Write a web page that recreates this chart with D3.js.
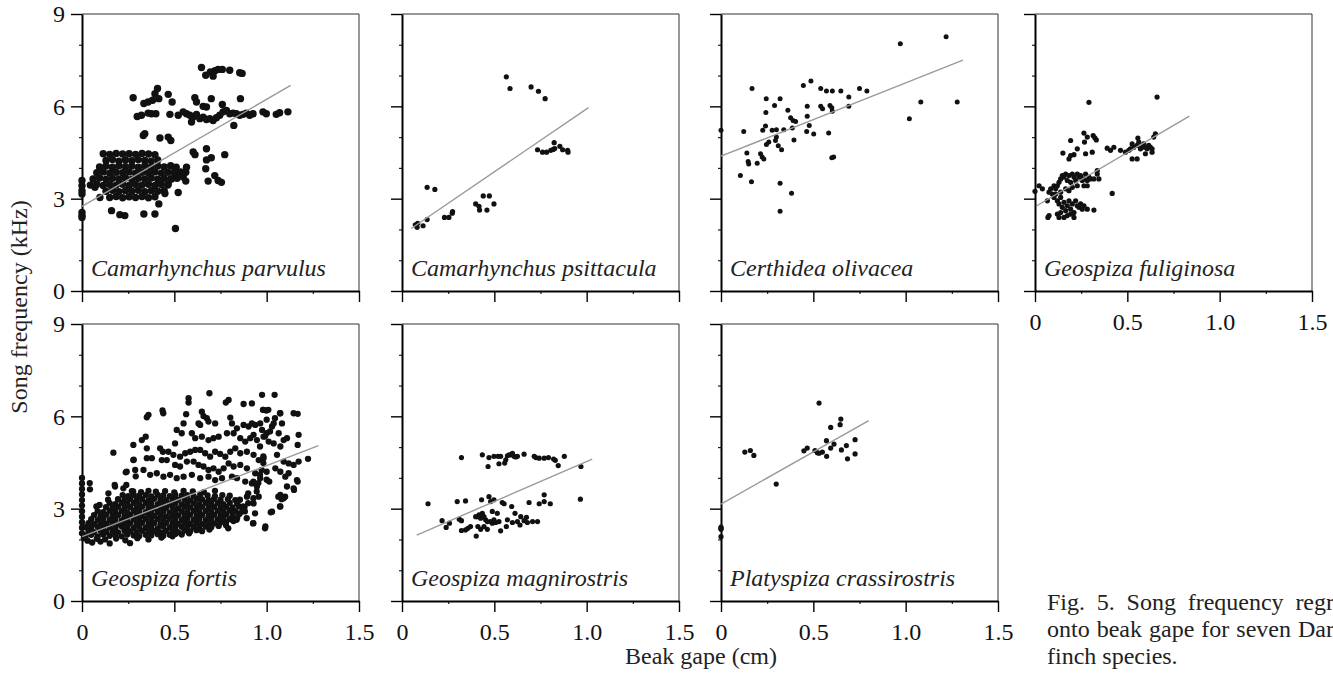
<!DOCTYPE html>
<html>
<head>
<meta charset="utf-8">
<script src="https://cdn.jsdelivr.net/npm/d3@7"></script>
<style>
  body { margin: 0; background: #fff; }
  svg { display: block; font-family: "Liberation Serif", "Times New Roman", Times, serif; }
</style>
</head>
<body>
<div id="chart"></div>
<script>
// Song frequency (kHz) vs beak gape (cm) for seven Darwin's finch species.
// Points were read off the printed figure, so they are estimates.

const xTicksMajor = [0, 0.5, 1.0, 1.5];
const xTicksMinor = [0.25, 0.75, 1.25];
const yTicksMajor = [0, 3, 6, 9];
const yTicksMinor = [1, 2, 4, 5, 7, 8];

const speciesNames = [
  "Camarhynchus parvulus", "Camarhynchus psittacula", "Certhidea olivacea", "Geospiza fuliginosa",
  "Geospiza fortis", "Geospiza magnirostris", "Platyspiza crassirostris"
];

// regression lines: [x0, y0, x1, y1]
const fitLines = [
  [0, 2.75, 1.13, 6.68],
  [0.05, 2.03, 1.01, 5.96],
  [0, 4.38, 1.31, 7.5],
  [0.01, 2.77, 0.836, 5.68],
  [0, 2.09, 1.28, 5.05],
  [0.08, 2.14, 1.03, 4.61],
  [0, 3.15, 0.8, 5.86]
];

const parvulus = [
  [0.647,7.26],[0.67,7.01],[0.695,7.12],[0.71,6.98],[0.72,7.16],[0.737,7.2],[0.76,7.2],[0.8,7.17],[0.854,7.09],[0.867,7.07],
  [0.277,6.28],[0.335,6.09],[0.358,6.14],[0.382,6.2],[0.395,6.41],[0.409,6.58],[0.416,6.25],[0.467,6.39],[0.488,6.14],
  [0.299,5.67],[0.322,5.71],[0.358,5.78],[0.376,5.76],[0.4,5.76],[0.476,5.74],[0.521,5.71],
  [0.611,6.28],[0.62,6.14],[0.656,6.0],[0.674,5.98],[0.7,6.25],[0.76,6.06],[0.858,6.25],
  [0.548,5.82],[0.566,5.76],[0.584,5.71],[0.602,5.65],[0.62,5.74],[0.638,5.6],[0.656,5.65],[0.674,5.57],[0.692,5.6],
  [0.71,5.54],[0.728,5.63],[0.746,5.71],[0.764,5.82],[0.782,5.87],[0.8,5.76],[0.818,5.78],[0.836,5.76],[0.854,5.71],
  [0.872,5.74],[0.89,5.78],[0.908,5.71],[0.926,5.76],[0.98,5.82],[0.998,5.76],[1.052,5.74],[1.07,5.79],[1.115,5.82],
  [0.593,5.49],[0.822,5.38],
  [0.332,5.05],[0.34,5.11],[0.422,4.97],[0.467,5.0],[0.481,4.89],
  [0.674,4.62],[0.773,4.43],[0.602,4.52],[0.612,4.43],[0.674,4.26],[0.7,4.33],[0.67,3.97],
  [0.719,3.75],[0.683,3.57],[0.737,3.59],[0.755,3.53],
  [0.566,4.02],[0.562,3.86],[0.548,3.7],[0.562,3.57],
  [0.503,3.91],[0.512,3.75],[0.521,3.2],[0.485,3.64],[0.467,3.48],[0.449,3.17],
  [0.416,2.83],[0.395,2.5],[0.335,2.5],[0.16,2.61],[0.205,2.48],[0.232,2.45],[0.506,2.03],[0.07,3.37],[0.097,3.04],
  [0,3.59],[0,3.42],[0,3.26],[0,3.15],[0,2.55],[0,2.45],[0,2.39],
  [0.115,4.46],[0.15,4.44],[0.185,4.47],[0.22,4.45],[0.255,4.46],[0.29,4.44],[0.325,4.47],[0.36,4.45],[0.395,4.43],
  [0.13,4.24],[0.165,4.27],[0.2,4.22],[0.235,4.26],[0.27,4.23],[0.305,4.27],[0.34,4.24],[0.375,4.22],[0.41,4.26],
  [0.095,4.03],[0.13,4.06],[0.165,4.02],[0.2,4.07],[0.235,4.04],[0.27,4.06],[0.305,4.02],[0.34,4.07],[0.375,4.03],
  [0.41,4.06],[0.445,4.03],[0.48,4.07],[0.51,4.02],
  [0.08,3.84],[0.115,3.87],[0.15,3.83],[0.185,3.86],[0.22,3.84],[0.255,3.87],[0.29,3.83],[0.325,3.86],[0.36,3.84],
  [0.395,3.87],[0.43,3.83],[0.465,3.86],[0.5,3.84],[0.535,3.87],
  [0.06,3.64],[0.095,3.67],[0.13,3.63],[0.165,3.66],[0.2,3.64],[0.235,3.67],[0.27,3.63],[0.305,3.66],[0.34,3.64],
  [0.375,3.67],[0.41,3.63],[0.445,3.66],[0.48,3.64],[0.515,3.66],
  [0.045,3.44],[0.08,3.47],[0.115,3.43],[0.15,3.46],[0.185,3.44],[0.22,3.47],[0.255,3.43],[0.29,3.46],[0.325,3.44],
  [0.36,3.47],[0.395,3.43],[0.43,3.46],[0.465,3.44],
  [0.13,3.24],[0.165,3.27],[0.2,3.23],[0.235,3.26],[0.27,3.24],[0.305,3.27],[0.34,3.23],[0.375,3.26],[0.41,3.24],[0.445,3.26],
  [0.15,3.04],[0.185,3.07],[0.22,3.03],[0.255,3.06],[0.29,3.04],[0.325,3.07],[0.36,3.03],[0.395,3.06]
];

const psittacula = [
  [0.072,2.15],[0.082,2.07],[0.085,2.2],[0.114,2.12],[0.136,2.32],[0.136,3.37],[0.178,3.3],
  [0.23,2.39],[0.254,2.39],[0.272,2.53],[0.274,2.58],
  [0.399,2.83],[0.417,2.75],[0.42,2.63],[0.44,3.09],[0.46,2.63],[0.473,3.09],[0.498,2.83],
  [0.565,6.96],[0.585,6.58],[0.699,6.63],[0.739,6.49],[0.775,6.25],
  [0.734,4.59],[0.761,4.51],[0.783,4.51],[0.806,4.57],[0.819,4.6],[0.824,4.82],[0.827,4.63],
  [0.855,4.7],[0.87,4.59],[0.897,4.57],[0.899,4.51]
];

const olivacea = [
  [0,5.22],[0.123,5.18],[0.168,6.58],[0.245,6.25],[0.243,5.8],[0.29,6.03],[0.32,6.25],[0.362,5.87],
  [0.226,5.22],[0.241,5.36],[0.277,5.22],[0.3,5.24],[0.34,5.24],[0.377,5.63],[0.39,5.54],[0.404,5.51],
  [0.386,5.3],[0.395,4.91],[0.246,4.76],[0.259,4.84],[0.295,4.89],[0.3,5.0],[0.31,4.72],[0.328,4.59],
  [0.14,4.48],[0.147,4.21],[0.15,4.13],[0.196,4.15],[0.214,4.46],[0.223,4.35],[0.232,4.29],
  [0.105,3.75],[0.165,3.55],[0.32,3.5],[0.382,3.18],[0.32,2.59],
  [0.446,6.68],[0.487,6.82],[0.54,6.58],[0.571,6.5],[0.603,6.5],[0.649,6.5],[0.692,6.3],[0.75,6.58],[0.79,6.5],
  [0.467,6.0],[0.467,5.68],[0.478,5.38],[0.464,5.18],[0.502,5.1],
  [0.54,6.0],[0.55,5.92],[0.59,6.03],[0.6,5.95],[0.603,5.84],[0.692,6.0],
  [0.583,5.13],[0.6,4.33],[0.61,4.35],
  [0.971,8.03],[1.219,8.26],[1.02,5.6],[1.082,6.14],[1.279,6.14]
];

const fuliginosa = [
  [0,3.24],[0.022,3.42],[0.04,3.32],[0.076,3.21],[0.067,2.93],[0.07,2.39],
  [0.103,3.42],[0.112,3.32],[0.121,3.42],[0.13,3.53],[0.139,3.64],[0.148,3.75],[0.157,3.7],[0.166,3.8],
  [0.175,3.59],[0.184,3.75],[0.193,3.53],[0.202,3.8],[0.211,3.7],[0.22,3.59],[0.229,3.8],[0.238,3.7],
  [0.247,3.75],[0.256,3.59],[0.265,3.64],[0.274,3.8],[0.283,3.59],[0.292,3.7],[0.301,3.64],[0.319,3.64],
  [0.337,3.8],[0.346,3.64],[0.337,3.91],
  [0.103,3.04],[0.121,2.93],[0.13,2.83],[0.139,3.04],[0.148,2.72],[0.157,2.88],[0.166,2.61],[0.175,2.77],
  [0.184,2.93],[0.193,2.66],[0.202,2.83],[0.211,2.55],[0.22,2.93],[0.229,2.77],[0.238,2.72],[0.247,2.83],
  [0.256,2.66],[0.265,2.77],[0.283,2.66],[0.319,2.63],
  [0.121,2.5],[0.139,2.55],[0.157,2.39],[0.175,2.45],[0.193,2.5],[0.211,2.39],[0.13,2.39],[0.076,2.45],
  [0.085,3.32],[0.094,3.15],[0.112,3.15],[0.139,3.21],[0.166,3.32],[0.184,3.26],[0.202,3.37],[0.229,3.42],
  [0.265,3.42],[0.283,3.42],
  [0.151,4.48],[0.184,4.29],[0.193,4.4],[0.193,4.89],[0.211,4.43],[0.229,4.62],[0.265,5.13],[0.268,4.84],
  [0.274,4.46],[0.283,5.0],[0.31,4.51],[0.315,5.05],[0.324,4.98],[0.332,4.91],[0.292,6.13],
  [0.391,4.64],[0.409,4.57],[0.427,4.67],[0.463,4.57],[0.49,4.51],[0.508,4.57],[0.517,4.62],[0.526,4.78],
  [0.535,4.67],[0.553,4.73],[0.562,4.84],[0.571,4.62],[0.58,4.67],[0.589,4.78],[0.598,4.67],[0.607,4.62],
  [0.616,4.73],[0.625,4.67],[0.634,4.62],[0.643,5.0],[0.652,5.11],
  [0.526,4.29],[0.553,4.29],[0.598,4.46],[0.634,4.51],[0.557,4.97],
  [0.418,3.17],[0.661,6.3]
];

const fortis = [
  // upper scatter
  [0.69,6.75],[0.577,6.59],[0.577,6.45],[0.779,6.45],[0.794,6.53],[0.875,6.4],[0.92,6.42],[0.975,6.7],[1.043,6.7],
  [0.98,6.21],[0.998,6.19],[1.146,6.1],[1.168,6.08],[0.36,6.05],[0.351,5.97],[0.436,6.19],[0.44,6.1],[0.564,6.07],
  [0.649,6.15],[0.658,6.01],[0.676,5.94],[0.685,5.83],[0.721,5.77],[0.803,5.96],[0.812,5.77],[0.875,5.72],
  [0.902,5.67],[0.92,5.77],[0.938,5.72],[0.965,5.77],[0.975,5.56],[1.0,5.45],[1.029,5.67],[1.038,5.77],
  [1.074,6.1],[1.083,5.77],[1.065,5.45],[1.11,5.29],[1.173,5.4],[1.168,5.07],[0.55,5.77],[0.631,5.77],[0.64,5.72],
  [0.513,5.56],[0.54,5.45],[0.595,5.45],[0.613,5.29],[0.649,5.34],[0.685,5.23],[0.712,5.29],[0.74,5.34],
  [0.785,5.45],[0.821,5.45],[0.839,5.61],[0.857,5.29],[0.884,5.18],[0.911,5.29],[0.929,5.4],[0.947,5.23],
  [0.983,5.34],[1.011,5.18],[1.038,5.12],[1.074,5.02],[1.092,5.23],[0.345,5.34],[0.324,5.23],[0.278,5.07],
  [0.17,4.82],[0.351,4.96],[0.504,5.12],[0.423,4.96],[0.438,4.85],[0.468,4.85],[0.495,4.75],[0.531,4.69],
  [0.559,4.8],[0.586,4.85],[0.613,4.91],[0.64,4.91],[0.667,4.8],[0.694,4.69],[0.721,4.85],[0.748,4.78],
  [0.776,4.69],[0.803,4.85],[0.83,4.96],[0.857,4.8],[0.893,4.85],[0.929,4.75],[0.957,4.58],[0.983,4.64],
  [1.056,4.75],[1.092,4.53],[1.119,4.47],[1.146,4.42],[1.173,4.53],
  [0.278,4.58],[0.351,4.64],[0.378,4.64],[0.432,4.58],[0.459,4.58],[0.504,4.42],[0.531,4.37],[0.568,4.53],
  [0.604,4.53],[0.631,4.42],[0.658,4.37],[0.685,4.26],[0.712,4.31],[0.74,4.2],[0.767,4.31],[0.794,4.47],
  [0.821,4.37],[0.857,4.42],[0.893,4.31],[0.938,4.15],[0.965,3.99],[1.0,4.2],[1.047,4.31],[1.074,4.2],
  [1.101,4.04],[1.119,4.15],[1.224,4.62],
  [0.242,4.2],[0.288,4.26],[0.333,4.26],[0.369,4.1],[0.405,4.15],[0.441,4.04],[0.477,4.1],[0.513,3.99],
  [0.55,4.04],[0.595,4.1],[0.64,3.99],[0.685,4.04],[0.721,3.93],[0.758,3.99],[0.812,4.04],[0.839,3.99],
  [0.884,3.88],[0.92,3.82],[0.947,3.72],
  [1.164,3.93],[1.11,3.72],[1.146,3.66],[1.074,3.45],[1.092,3.34],[1.074,3.07],[1.029,2.9],[0.926,2.52],
  [0.993,2.42],[0.893,3.39],[0.929,3.17],[0.957,3.39],[0.179,3.72],[0.224,3.66],[0.143,3.5],[0.043,3.63],
  [0.042,3.83],[0.141,3.29],[0.177,3.77],[0.237,4.18],[0.28,4.59],[0.291,4.05],[0.24,3.77],[0.277,3.56],
  [0.792,2.36],[0.991,2.36],[0.928,2.53],[0.882,2.91],[0.937,2.85],[1.022,2.88],[1.072,3.07],[1.1,3.39],
  [1.148,3.61],[1.168,3.88],[1.063,3.39],[1.081,3.31],[1.014,3.88],
  [0.855,3.29],[0.873,3.07],[0.9,3.18],[0.928,3.34],[0.946,3.56],[0.955,3.83],[0.964,4.1],[0.973,4.26],
  [0.982,4.48],[0.855,2.85],[0.892,2.69],[0.837,2.64],[0.9,3.5],[0.928,3.88],[1.0,3.94],[0.982,4.7],
  [0.964,5.02],[0.991,5.35],[1.018,5.51],[1.0,5.89],[1.045,5.94],[1.072,6.1],[1.009,6.21],[0.982,6.21],
  // points on the y axis
  [0,4.0],[0,3.82],[0,3.64],[0,3.46],[0,3.28],[0,3.1],[0,2.92],[0,2.74],[0,2.56],[0,2.38],[0,2.2],[0.01,2.04],
  [0.078,3.07],[0.095,3.12],
  // dense band
  [0.03,1.96],[0.055,1.9],[0.08,2.02],[0.1,1.93],[0.125,2.0],[0.15,1.87],[0.185,2.03],[0.235,1.97],[0.26,1.88],
  [0.3,2.04],[0.36,2.0],[0.43,2.06],[0.49,2.1],
  [0.02,2.12],[0.05,2.15],[0.085,2.1],[0.115,2.16],[0.15,2.12],[0.18,2.14],[0.215,2.1],[0.245,2.16],[0.28,2.13],
  [0.31,2.11],[0.345,2.15],[0.375,2.13],[0.41,2.17],[0.44,2.12],[0.475,2.15],[0.505,2.18],[0.54,2.16],[0.58,2.2],
  [0.035,2.27],[0.065,2.24],[0.1,2.28],[0.13,2.25],[0.165,2.27],[0.195,2.23],[0.23,2.28],[0.26,2.26],[0.295,2.24],
  [0.325,2.28],[0.36,2.25],[0.39,2.27],[0.425,2.23],[0.455,2.28],[0.49,2.26],[0.52,2.24],[0.555,2.29],[0.585,2.26],
  [0.62,2.3],[0.65,2.27],[0.69,2.32],
  [0.02,2.4],[0.05,2.37],[0.085,2.41],[0.115,2.38],[0.15,2.4],[0.18,2.36],[0.215,2.42],[0.245,2.39],[0.28,2.37],
  [0.31,2.41],[0.345,2.38],[0.375,2.4],[0.41,2.36],[0.44,2.42],[0.475,2.39],[0.505,2.37],[0.54,2.41],[0.57,2.38],
  [0.605,2.4],[0.635,2.37],[0.67,2.42],[0.7,2.4],[0.74,2.44],[0.78,2.46],
  [0.035,2.53],[0.065,2.5],[0.1,2.54],[0.13,2.51],[0.165,2.53],[0.195,2.49],[0.23,2.54],[0.26,2.52],[0.295,2.5],
  [0.325,2.54],[0.36,2.51],[0.39,2.53],[0.425,2.49],[0.455,2.54],[0.49,2.52],[0.52,2.5],[0.555,2.54],[0.585,2.51],
  [0.62,2.53],[0.65,2.5],[0.685,2.54],[0.715,2.52],[0.75,2.55],[0.78,2.57],[0.82,2.6],
  [0.05,2.66],[0.085,2.63],[0.115,2.67],[0.15,2.64],[0.18,2.66],[0.215,2.62],[0.245,2.67],[0.28,2.65],[0.31,2.63],
  [0.345,2.67],[0.375,2.64],[0.41,2.66],[0.44,2.62],[0.475,2.67],[0.505,2.65],[0.54,2.63],[0.57,2.67],[0.605,2.64],
  [0.635,2.66],[0.67,2.63],[0.7,2.67],[0.735,2.65],[0.765,2.68],[0.8,2.66],[0.84,2.7],
  [0.065,2.79],[0.1,2.76],[0.13,2.8],[0.165,2.77],[0.195,2.79],[0.23,2.75],[0.26,2.8],[0.295,2.78],[0.325,2.76],
  [0.36,2.8],[0.39,2.77],[0.425,2.79],[0.455,2.75],[0.49,2.8],[0.52,2.78],[0.555,2.76],[0.585,2.8],[0.62,2.77],
  [0.65,2.79],[0.685,2.76],[0.715,2.8],[0.75,2.78],[0.78,2.81],[0.815,2.79],[0.85,2.82],
  [0.085,2.92],[0.115,2.89],[0.15,2.93],[0.18,2.9],[0.215,2.92],[0.245,2.88],[0.28,2.93],[0.31,2.91],[0.345,2.89],
  [0.375,2.93],[0.41,2.9],[0.44,2.92],[0.475,2.88],[0.505,2.93],[0.54,2.91],[0.57,2.89],[0.605,2.93],[0.635,2.9],
  [0.67,2.92],[0.7,2.89],[0.735,2.93],[0.765,2.91],[0.8,2.94],[0.83,2.92],[0.87,2.95],
  [0.13,3.05],[0.165,3.02],[0.195,3.06],[0.23,3.03],[0.26,3.05],[0.295,3.01],[0.325,3.06],[0.36,3.04],[0.39,3.02],
  [0.425,3.06],[0.455,3.03],[0.49,3.05],[0.52,3.01],[0.555,3.06],[0.585,3.04],[0.62,3.02],[0.65,3.06],[0.685,3.03],
  [0.715,3.05],[0.75,3.02],[0.78,3.06],[0.815,3.04],[0.85,3.07],[0.88,3.05],
  [0.15,3.18],[0.18,3.15],[0.215,3.19],[0.245,3.16],[0.28,3.18],[0.31,3.14],[0.345,3.19],[0.375,3.17],[0.41,3.15],
  [0.44,3.19],[0.475,3.16],[0.505,3.18],[0.54,3.14],[0.57,3.19],[0.605,3.17],[0.635,3.15],[0.67,3.19],[0.7,3.16],
  [0.735,3.18],[0.765,3.15],[0.8,3.19],[0.84,3.17],
  [0.195,3.31],[0.23,3.28],[0.26,3.32],[0.295,3.29],[0.325,3.31],[0.36,3.27],[0.39,3.32],[0.425,3.3],[0.455,3.28],
  [0.49,3.32],[0.52,3.29],[0.555,3.31],[0.585,3.27],[0.62,3.32],[0.65,3.3],[0.685,3.28],[0.715,3.32],[0.75,3.29],
  [0.79,3.31],[0.83,3.28],
  [0.22,3.44],[0.25,3.41],[0.28,3.45],[0.31,3.42],[0.345,3.44],[0.375,3.4],[0.41,3.45],[0.44,3.43],[0.475,3.41],
  [0.505,3.45],[0.54,3.42],[0.57,3.44],[0.605,3.4],[0.64,3.45],[0.68,3.43],[0.72,3.41],[0.76,3.44],[0.8,3.42],
  [0.27,3.57],[0.32,3.54],[0.36,3.58],[0.4,3.55],[0.45,3.57],[0.5,3.53],[0.55,3.58],[0.6,3.56],[0.66,3.54],[0.72,3.58]
];

const magnirostris = [
  [0.141,3.16],[0.217,2.61],[0.239,2.39],[0.257,2.53],[0.299,3.23],[0.31,2.66],[0.322,2.61],[0.322,4.66],
  [0.344,3.25],[0.322,2.29],[0.344,2.31],[0.357,2.36],[0.371,2.42],[0.402,2.11],[0.431,3.29],[0.435,4.75],
  [0.408,2.74],[0.417,2.8],[0.426,2.69],[0.435,2.85],[0.444,2.74],[0.453,2.64],
  [0.462,2.33],[0.471,3.39],[0.471,4.66],[0.466,4.37],[0.48,3.23],[0.498,4.7],[0.498,3.29],[0.489,2.91],
  [0.48,2.58],[0.489,2.53],[0.498,2.64],[0.507,2.55],
  [0.52,4.7],[0.525,4.46],[0.534,4.7],[0.543,3.2],[0.553,3.16],[0.556,4.48],[0.562,4.59],[0.571,4.72],
  [0.58,4.75],[0.589,4.75],[0.598,4.8],[0.607,4.7],[0.616,4.68],[0.625,4.7],
  [0.534,2.28],[0.516,2.85],[0.525,2.58],[0.565,2.42],[0.571,2.64],[0.594,3.07],[0.598,2.55],[0.612,2.85],
  [0.625,2.58],[0.639,2.47],[0.643,2.74],[0.661,2.61],[0.674,2.72],[0.679,2.55],[0.688,3.2],[0.707,2.58],
  [0.734,2.58],[0.661,4.77],[0.716,4.7],[0.725,4.66],[0.743,4.64],[0.77,4.64],[0.793,4.66],[0.821,4.61],
  [0.83,4.57],[0.846,4.4],[0.879,4.7],[0.743,3.16],[0.77,3.45],[0.77,3.23],[0.803,3.16],[0.969,4.37],[0.966,3.31],
  [0.399,2.74],[0.411,2.42],[0.426,2.33],[0.444,2.42],[0.462,2.58]
];

const crassirostris = [
  [0,2.4],[0,2.33],[0,2.09],[0,2.36],
  [0.129,4.84],[0.159,4.89],[0.178,4.73],[0.299,3.8],[0.449,4.88],[0.467,4.97],[0.509,4.89],[0.531,6.43],
  [0.531,4.8],[0.549,4.84],[0.571,5.21],[0.572,4.7],[0.594,5.64],[0.594,4.97],[0.612,5.1],[0.649,5.91],
  [0.645,5.73],[0.652,4.91],[0.679,5.05],[0.685,4.62],[0.726,5.24],[0.726,4.78],[0.522,4.82]
];

const speciesPoints = [parvulus, psittacula, olivacea, fuliginosa, fortis, magnirostris, crassirostris];

const captionLines = [
  "Fig. 5. Song frequency regressed",
  "onto beak gape for seven Darwin\u2019s",
  "finch species."
];

// layout
const W = 1333, H = 676;
const FONT = "'Liberation Serif', 'Times New Roman', Times, serif";
const colLeft = [82, 402, 721, 1035];
const rowTop = [14, 324];
const pw = 277, ph = 277;
const dotR = [3.7, 2.6, 2.5, 2.6, 3.15, 2.6, 2.6];

const svg = d3.select("#chart").append("svg")
  .attr("width", W).attr("height", H)
  .attr("font-family", FONT);

const x = d3.scaleLinear().domain([0, 1.5]).range([0, pw]);
const y = d3.scaleLinear().domain([0, 9]).range([ph, 0]);
const fmtX = d => d === 0 ? "0" : d.toFixed(1);

function styleAxis(a, width) {
  a.attr("font-family", FONT).attr("font-size", 24);
  a.select(".domain").attr("stroke", "#000").attr("stroke-width", width);
  a.selectAll("line").attr("stroke", "#000").attr("stroke-width", 1.4);
  a.selectAll("text").attr("fill", "#111").style("font-family", FONT).style("font-size", "24px");
}

speciesNames.forEach((name, i) => {
  const row = i < 4 ? 0 : 1;
  const col = i < 4 ? i : i - 4;
  const showX = row === 1 || col === 3;
  const showY = col === 0;

  const g = svg.append("g")
    .attr("transform", `translate(${colLeft[col]},${rowTop[row]})`);

  // thin frame on top and right
  g.append("line").attr("x1", 0).attr("x2", pw).attr("y1", 0).attr("y2", 0)
    .attr("stroke", "#333").attr("stroke-width", 1);
  g.append("line").attr("x1", pw).attr("x2", pw).attr("y1", 0).attr("y2", ph)
    .attr("stroke", "#333").attr("stroke-width", 1);

  // minor ticks
  g.append("g").attr("transform", `translate(0,${ph})`)
    .call(d3.axisBottom(x).tickValues(xTicksMinor).tickSize(3).tickSizeOuter(0).tickFormat(""))
    .call(a => a.select(".domain").remove())
    .call(a => a.selectAll("line").attr("stroke", "#222").attr("stroke-width", 1.2));
  g.append("g")
    .call(d3.axisLeft(y).tickValues(yTicksMinor).tickSize(3).tickSizeOuter(0).tickFormat(""))
    .call(a => a.select(".domain").remove())
    .call(a => a.selectAll("line").attr("stroke", "#222").attr("stroke-width", 1.2));

  // major axes
  g.append("g").attr("transform", `translate(0,${ph})`)
    .call(d3.axisBottom(x).tickValues(xTicksMajor).tickSize(11).tickSizeOuter(0).tickPadding(11)
      .tickFormat(showX ? fmtX : ""))
    .call(a => styleAxis(a, 2));
  g.append("g")
    .call(d3.axisLeft(y).tickValues(yTicksMajor).tickSize(11).tickSizeOuter(0).tickPadding(6)
      .tickFormat(showY ? d3.format("d") : ""))
    .call(a => styleAxis(a, 2));

  // points
  g.append("g").selectAll("circle")
    .data(speciesPoints[i])
    .join("circle")
    .attr("cx", d => x(d[0]))
    .attr("cy", d => y(d[1]))
    .attr("r", dotR[i])
    .attr("fill", "#111");

  // regression line
  const f = fitLines[i];
  g.append("line")
    .attr("x1", x(f[0])).attr("y1", y(f[1]))
    .attr("x2", x(f[2])).attr("y2", y(f[3]))
    .attr("stroke", "#9a9a9a").attr("stroke-width", 1.4);

  // species label
  g.append("text")
    .attr("x", 9).attr("y", ph - 15)
    .style("font-family", FONT)
    .style("font-size", "24px").style("font-style", "italic")
    .attr("fill", "#222")
    .text(name);
});

// axis titles
svg.append("text")
  .attr("transform", "translate(27,307) rotate(-90)")
  .attr("text-anchor", "middle")
  .style("font-family", FONT)
  .style("font-size", "24px").attr("fill", "#222")
  .text("Song frequency (kHz)");

svg.append("text")
  .attr("x", 701).attr("y", 664)
  .attr("text-anchor", "middle")
  .style("font-family", FONT)
  .style("font-size", "24px").attr("fill", "#222")
  .text("Beak gape (cm)");

// caption: justified column, cut off by the page edge like the original
const capX = 1047, capWidth = 339, capBase = [610, 637, 664];
captionLines.forEach((line, k) => {
  const t = svg.append("text").attr("y", capBase[k])
    .style("font-family", FONT).style("font-size", "24px").attr("fill", "#222");
  const words = line.split(" ");
  if (k === captionLines.length - 1) {
    t.attr("x", capX).text(line);
    return;
  }
  const spans = words.map(w => t.append("tspan").text(w));
  const widths = spans.map(s => s.node().getComputedTextLength());
  const gap = (capWidth - d3.sum(widths)) / (words.length - 1);
  let cx = capX;
  spans.forEach((s, j) => { s.attr("x", cx); cx += widths[j] + gap; });
});
</script>
</body>
</html>
